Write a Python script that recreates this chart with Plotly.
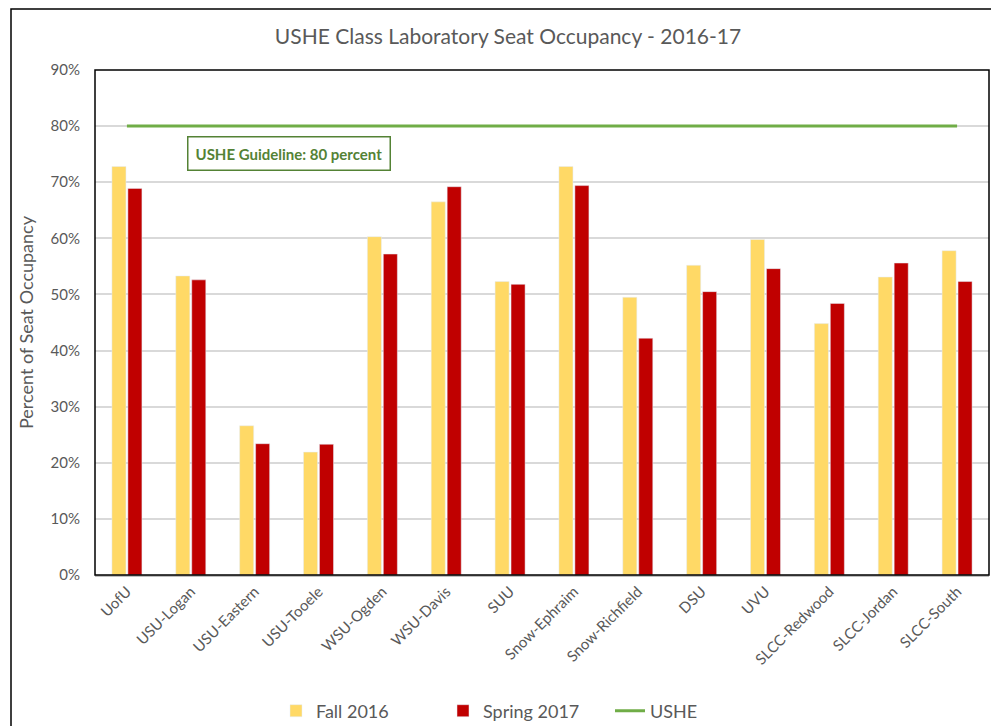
import plotly.graph_objects as go

categories = ["UofU", "USU-Logan", "USU-Eastern", "USU-Tooele", "WSU-Ogden", "WSU-Davis",
              "SUU", "Snow-Ephraim", "Snow-Richfield", "DSU", "UVU", "SLCC-Redwood",
              "SLCC-Jordan", "SLCC-South"]
fall_2016 = [0.728, 0.533, 0.266, 0.219, 0.603, 0.665, 0.523, 0.728, 0.495, 0.552, 0.598, 0.448, 0.531, 0.578]
spring_2017 = [0.689, 0.526, 0.234, 0.233, 0.572, 0.692, 0.518, 0.694, 0.422, 0.505, 0.546, 0.484, 0.556, 0.523]
ushe_guideline = [0.80] * len(categories)
y_ticks = [0, 0.1, 0.2, 0.3, 0.4, 0.5, 0.6, 0.7, 0.8, 0.9]

FONT = "Lato"
GREY = "#595959"

fig = go.Figure()
fig.add_trace(go.Bar(x=categories, y=fall_2016, name="Fall 2016", marker_color="#FFD966"))
fig.add_trace(go.Bar(x=categories, y=spring_2017, name="Spring 2017", marker_color="#C00000"))
fig.add_trace(go.Scatter(x=categories, y=ushe_guideline, name="USHE", mode="lines",
                         line=dict(color="#70AD47", width=3)))

fig.update_layout(
    width=991, height=726,
    margin=dict(l=95, r=2, t=70, b=151, autoexpand=False),
    paper_bgcolor="white", plot_bgcolor="white",
    font=dict(family=FONT, color=GREY),
    title=dict(text="USHE Class Laboratory Seat Occupancy - 2016-17",
               x=508 / 991, xanchor="center", y=1 - 37 / 726, yanchor="middle",
               font=dict(size=21, color=GREY, family=FONT)),
    barmode="group", bargap=0.5, bargroupgap=0.12,
    showlegend=True,
    legend=dict(orientation="h", x=(276 - 95) / 894, xanchor="left",
                y=(575 - 711) / 505, yanchor="middle",
                font=dict(size=18, color=GREY, family=FONT),
                itemwidth=30, entrywidth=122, entrywidthmode="pixels"),
    xaxis=dict(tickangle=-45, tickfont=dict(size=15, color=GREY),
               showline=True, linecolor="#BFBFBF", linewidth=2, automargin=False,
               showgrid=False, ticks="", mirror=False),
    yaxis=dict(range=[0, 0.9], tickvals=y_ticks, tickformat=".0%", automargin=False,
               tickfont=dict(size=15, color=GREY),
               showgrid=True, gridcolor="#D9D9D9", gridwidth=1.5,
               zeroline=False, showline=False, ticks="", ticklabelstandoff=14,
               title=dict(text="Percent of Seat Occupancy", standoff=12,
                          font=dict(size=18, color=GREY))),
)

# plot area border (black) and outer chart border
fig.add_shape(type="rect", xref="paper", yref="paper", x0=0, x1=1, y0=0, y1=1,
              line=dict(color="black", width=1.5), layer="above")
fig.add_shape(type="rect", xref="paper", yref="paper",
              x0=(11 - 95) / 894, x1=1.05, y0=-0.4, y1=(575 - 9) / 505,
              line=dict(color="black", width=1.5), layer="above")

fig.add_annotation(text="<b>USHE Guideline: 80 percent</b>", xref="paper", yref="paper",
                   x=(288.5 - 95) / 894, y=(575 - 153.5) / 505, showarrow=False,
                   xanchor="center", yanchor="middle",
                   font=dict(size=15, color="#548235", family=FONT),
                   bordercolor="#548235", borderwidth=1.5, borderpad=7, bgcolor="white")

fig.write_html("out.html", config={"displayModeBar": False},
               post_script="document.body.style.margin='0';")
